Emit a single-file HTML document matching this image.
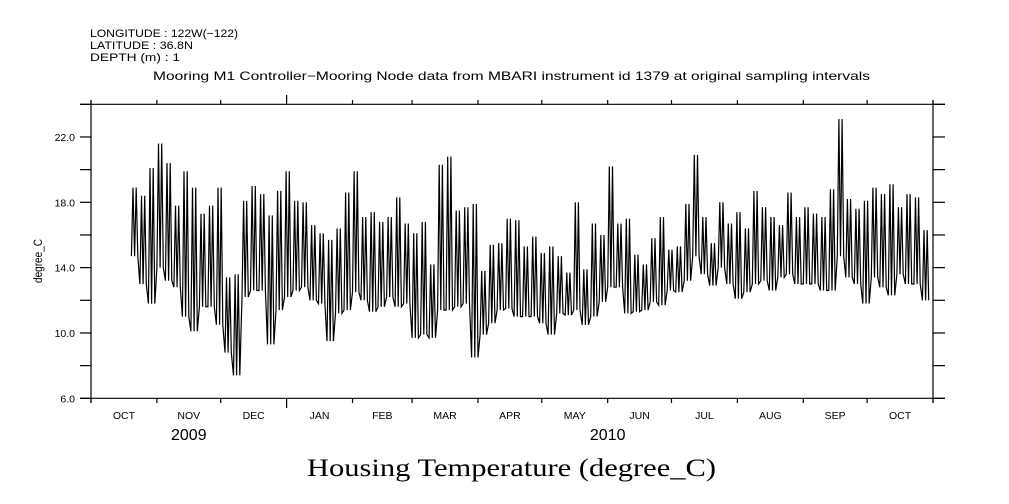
<!DOCTYPE html>
<html><head><meta charset="utf-8"><style>
html,body{margin:0;padding:0;background:#fff;}
svg{display:block;font-family:"Liberation Sans",sans-serif;}
</style></head><body>
<svg id="chart" width="1009" height="504" viewBox="0 0 1009 504" xmlns="http://www.w3.org/2000/svg">
<g font-size="11" fill="#000">
<text x="90" y="37" textLength="148" lengthAdjust="spacingAndGlyphs">LONGITUDE : 122W(−122)</text>
<text x="90" y="49" textLength="103" lengthAdjust="spacingAndGlyphs">LATITUDE : 36.8N</text>
<text x="90" y="61" textLength="90" lengthAdjust="spacingAndGlyphs">DEPTH (m) : 1</text>
</g>
<text x="153" y="80" textLength="717" lengthAdjust="spacingAndGlyphs" font-size="12">Mooring M1 Controller−Mooring Node data from MBARI instrument id 1379 at original sampling intervals</text>
<text transform="translate(42,261) rotate(-90)" text-anchor="middle" font-size="11.5" textLength="44" lengthAdjust="spacingAndGlyphs">degree_C</text>
<text x="307" y="476" textLength="409" lengthAdjust="spacingAndGlyphs" font-family="'Liberation Serif',serif" font-size="25">Housing Temperature (degree_C)</text>
<g id="axes"></g>
<g id="series"></g>
</svg>
<script>
const yTicks = [6, 8, 10, 12, 14, 16, 18, 20, 22, 24];
const yLabels = ["6.0", "10.0", "14.0", "18.0", "22.0"];
const monthNames = ["OCT","NOV","DEC","JAN","FEB","MAR","APR","MAY","JUN","JUL","AUG","SEP","OCT"];
const monthStartDays = [0,31,61,92,123,151,182,212,243,273,304,335,365,396];
const yearLabels = ["2009","2010"];
const yearLabelDays = [46, 243];
const binStartDay = 19;
const binDays = 4;
const binHigh = [18.9,18.4,20.1,21.6,20.4,17.8,19.9,18.9,17.3,17.8,18.9,13.4,13.6,18.1,19.0,18.5,17.2,18.7,19.9,18.1,18.0,16.6,16.1,
15.7,16.4,18.6,19.9,17.1,17.4,16.8,17.1,18.3,16.7,16.1,16.8,14.2,20.3,20.8,17.5,17.7,17.9,13.8,15.4,15.5,17.0,16.9,
15.3,15.9,14.9,15.3,14.7,13.7,18.0,13.9,16.7,16.0,20.2,16.7,17.0,14.8,14.2,15.8,17.1,15.1,15.3,17.9,20.9,17.1,15.5,
18.0,16.7,17.4,16.4,18.7,17.7,17.1,16.6,18.6,17.1,17.7,17.3,17.1,18.8,23.1,18.2,17.6,18.1,18.9,18.5,19.1,17.7,18.5,18.3,16.3];
const binLow = [14.7,13.0,11.8,14.0,13.2,12.8,11.0,10.1,11.6,11.6,10.5,8.8,7.4,12.2,12.6,12.6,9.3,11.4,12.2,12.6,12.8,12.0,11.8,
9.5,11.2,11.4,12.5,12.0,11.3,11.6,12.2,11.6,11.8,9.7,9.9,9.7,11.4,11.4,11.6,11.8,8.5,9.9,10.6,11.4,11.5,11.0,
11.0,11.0,10.6,9.9,11.2,11.1,11.4,10.5,11.0,11.9,12.8,12.8,11.2,11.3,11.4,11.9,11.7,12.6,12.5,13.2,14.7,13.6,12.9,
14.0,13.0,12.1,12.5,13.0,13.2,12.6,13.4,13.6,13.0,13.0,13.0,12.6,12.6,14.7,13.4,13.0,11.8,13.4,12.8,12.3,13.6,13.0,13.0,12.0];

const NS = "http://www.w3.org/2000/svg";
const X0 = 91, X1 = 933, Y0 = 398.3, Y1 = 104.3;
const dayMax = 396, vMin = 6, vMax = 24;
function xScale(d){ return X0 + (X1 - X0) * d / dayMax; }
function yScale(v){ return Y0 - (Y0 - Y1) * (v - vMin) / (vMax - vMin); }
function mk(tag, attrs, parent){ const e = document.createElementNS(NS, tag); for (const k in attrs) e.setAttribute(k, attrs[k]); parent.appendChild(e); return e; }
const axes = document.getElementById('axes');
const st = {stroke:"#000","stroke-width":"1.2",fill:"none"};
function line(x1,y1,x2,y2,p){ return mk('line',Object.assign({x1,y1,x2,y2},st),p); }

let e;
e = line(80, Y1, 945, Y1, axes);


e = line(80, Y0, 945, Y0, axes);


e = line(X0, 100, X0, 403, axes);


e = line(X1, 100, X1, 403, axes);



yTicks.forEach(v => {
  const y = yScale(v);
  if (y < Y1 - 0.5) return;
  let t = line(80, y, X0, y, axes);
  
  
  t = line(X1, y, 945, y, axes);
  
  
});
yLabels.forEach(s => {
  const t = mk('text', {x: 75, y: yScale(parseFloat(s)) + 4, 'text-anchor': 'end', 'font-size': '10.5'}, axes);
  t.textContent = s;
  
  
});
monthStartDays.forEach((d, i) => {
  const x = xScale(d);
  const isYear = (d === 92);
  let t = line(x, Y1, x, isYear ? 95 : 100, axes);
  
  
  t = line(x, Y0, x, isYear ? 408 : 403, axes);
  
  
  if (i < monthNames.length) {
    const lb = mk('text', {x: (xScale(d) + xScale(monthStartDays[i+1])) / 2, y: 419, 'text-anchor': 'middle', 'font-size': '10.5'}, axes);
    lb.textContent = monthNames[i];
    
    
  }
});
yearLabels.forEach((s, i) => {
  const t = mk('text', {x: xScale(yearLabelDays[i]), y: 440, 'text-anchor': 'middle', 'font-size': '16'}, axes);
  t.textContent = s;
  
  
});

const series = document.getElementById('series');
const pts = [];
binHigh.forEach((h, i) => {
  const d = binStartDay + i * binDays;
  const lo = binLow[i];
  pts.push(xScale(d).toFixed(1) + ',' + yScale(lo).toFixed(1));
  pts.push(xScale(d + 0.75).toFixed(1) + ',' + yScale(h).toFixed(1));
  pts.push(xScale(d + 1.5).toFixed(1) + ',' + yScale(lo).toFixed(1));
  pts.push(xScale(d + 2.25).toFixed(1) + ',' + yScale(h).toFixed(1));
  pts.push(xScale(d + 3).toFixed(1) + ',' + yScale(lo).toFixed(1));
});
const pl = mk('polyline', {points: pts.join(' '), stroke: '#000', 'stroke-width': '1.2', fill: 'none', 'stroke-linejoin': 'miter'}, series);


</script>
</body></html>
